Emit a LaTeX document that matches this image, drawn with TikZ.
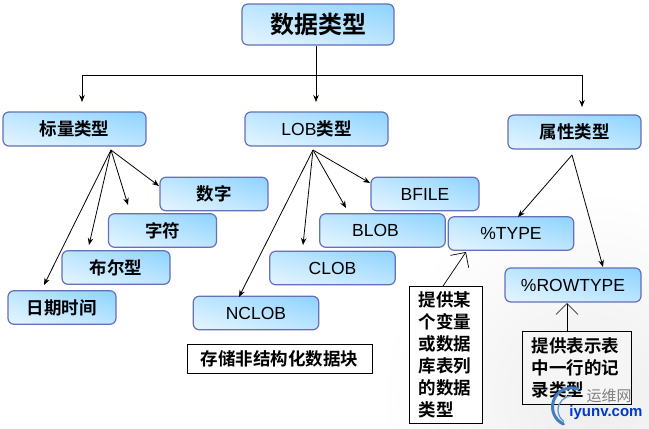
\documentclass[tikz,border=0pt]{standalone}
\usepackage{fontspec}
\setmainfont{Liberation Sans}
\newfontfamily\cjk{Noto Sans CJK SC}[BoldFont={* Bold}]
\usetikzlibrary{arrows.meta,calc}
\definecolor{boxline}{HTML}{6570B8}
\pgfdeclarefunctionalshading{diagblue}{\pgfpoint{-50bp}{-50bp}}{\pgfpoint{50bp}{50bp}}{}{
  add 100 add 200 div 1.35 exp
  dup 0.667 mul 1 exch sub exch 0.259 mul 1 exch sub 1
}
\tikzset{
  x=1pt,y=-1pt,
  tbox/.style={draw=boxline,line width=1.2pt,rounded corners=6pt,shade,shading=diagblue,shading angle=0,inner sep=0pt,text=black,align=center},
  big/.style={tbox,minimum width=143pt,minimum height=34pt},
  small/.style={tbox,minimum width=108pt,minimum height=33.5pt},
  mid/.style={tbox,minimum width=125.5pt,minimum height=33.5pt},
  zh/.style={font=\cjk\bfseries\fontsize{#1}{#1}\selectfont},
  en/.style={font=\fontsize{17.5pt}{19pt}\selectfont},
  arr/.style={draw=black,line width=0.8pt,-{Stealth[length=7pt,width=5.5pt]}},
  plainline/.style={draw=black,line width=0.8pt},
  openarr/.style={draw=black,line width=0.7pt,-{Straight Barb[length=11pt,width=22pt]}},
  note/.style={draw=black,line width=0.8pt,fill=white,inner sep=0pt,align=left},
  notetext/.style={font=\cjk\bfseries\fontsize{17.5pt}{22pt}\selectfont},
}
\begin{document}
\begin{tikzpicture}
\useasboundingbox (0,0) rectangle (649,429);
\fill[white] (0,0) rectangle (649,429);
\shade[inner color=black!7,outer color=white] (590,400) circle[radius=210pt];

% main boxes
\node[tbox,minimum width=152pt,minimum height=41pt,zh=24pt] (root) at (318,24.5) {数据类型};
\node[big,zh=17.5pt] (scalar) at (74.5,129) {标量类型};
\node[big,en] (lob) at (316.5,129) {LOB{\cjk\bfseries 类型}};
\node[tbox,minimum width=133pt,minimum height=34pt,zh=17.5pt] (attr) at (574.5,132) {属性类型};

\node[small,zh=17.5pt] (num) at (214,194) {数字};
\node[small,zh=17.5pt] (chr) at (162.5,230.5) {字符};
\node[small,zh=17.5pt] (bool) at (116,267.5) {布尔型};
\node[small,zh=17.5pt] (date) at (62,307.5) {日期时间};

\node[mid,en] (nclob) at (256,313) {NCLOB};
\node[mid,en] (clob) at (332.5,268) {CLOB};
\node[mid,en] (blob) at (382.5,230.5) {BLOB\hspace*{14pt}};
\node[small,en] (bfile) at (425,194) {BFILE};
\node[mid,en] (type) at (511,233.5) {\%TYPE};
\node[tbox,minimum width=136pt,minimum height=34pt,en] (rowtype) at (573,285) {\%ROWTYPE};

% notes
\node[note,minimum width=185pt,minimum height=29pt,zh=17.5pt] (n1) at (279.5,358.5) {存储非结构化数据块};
\node[note,minimum width=73pt,minimum height=137pt,text width=54pt,notetext] (n2) at (445.5,354.5) {提供某\\个变量\\或数据\\库表列\\的数据\\类型};
\node[note,fill=black!4,minimum width=109pt,minimum height=73pt,text width=90pt,notetext] (n3) at (576.5,367.5) {提供表示表\\中一行的记\\录类型};

% free ends
\coordinate (bus) at (316,75);
\coordinate (busL) at (82,75);
\coordinate (busR) at (582,75);
\coordinate (fanS) at (111,150);
\coordinate (fanL) at (313,150);
\coordinate (fanA) at (572,155);
\coordinate (s1) at (159,186);
\coordinate (s2) at (128,205);
\coordinate (s3) at (89,245);
\coordinate (s4) at (44,285);
\coordinate (l1) at (370,183);
\coordinate (l2) at (346,208);
\coordinate (l3) at (303,245);
\coordinate (l4) at (239,297);
\coordinate (a1) at (518,217);
\coordinate (a2) at (603,267);
\coordinate (c2s) at (443,286);
\coordinate (c2e) at (466,252);
\coordinate (c3s) at (567,331);
\coordinate (c3e) at (567,303);
\coordinate (dS) at (82,102);
\coordinate (dL) at (316,102);
\coordinate (dR) at (582,107);

% connectors
\draw[plainline] (busL) -- (busR);
\draw[arr] (root.south -| bus) -- (dL);
\draw[arr] (busL) -- (dS);
\draw[arr] (busR) -- (dR);
\foreach \e in {s1,s2,s3,s4} \draw[arr] (fanS) -- (\e);
\foreach \e in {l1,l2,l3,l4} \draw[arr] (fanL) -- (\e);
\draw[arr] (fanA) -- (a1);
\draw[arr] (fanA) -- (a2);
\draw[openarr] (c2s) -- (c2e);
\draw[openarr] (c3s) -- (c3e);

% watermark
\draw[line width=3pt,draw=teal!65!blue!75,line cap=round] (578,389) arc[start angle=70,end angle=245,radius=19pt];
\draw[line width=1.3pt,draw=teal!60!blue!60] (572,396) arc[start angle=90,end angle=235,radius=14pt];
\node[font=\cjk\fontsize{15pt}{16pt}\selectfont,text=black!50,inner sep=0pt] (wm1) at (609,396) {运维网};
\node[font=\bfseries\fontsize{15pt}{16pt}\selectfont,text=blue!55!teal,inner sep=0pt] (wm2) at (606,413) {iyunv.com};
\end{tikzpicture}
\end{document}
